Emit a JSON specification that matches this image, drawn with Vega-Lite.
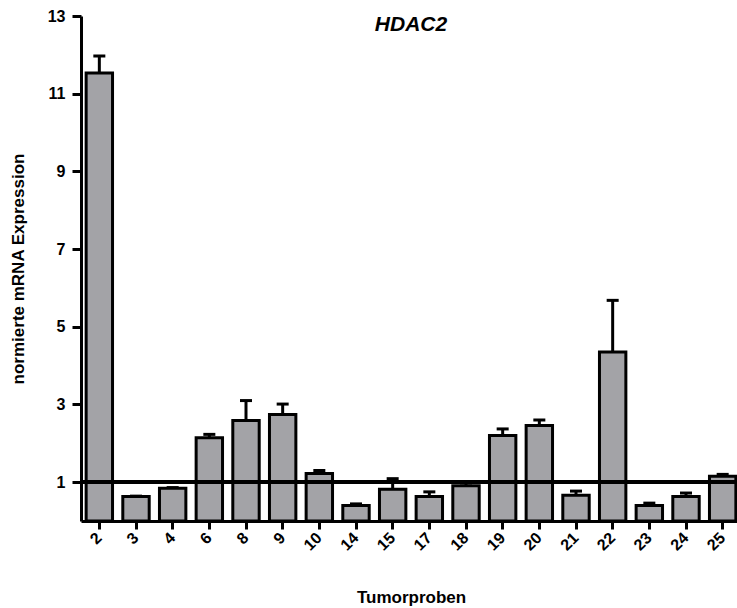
{
  "$schema": "https://vega.github.io/schema/vega-lite/v6.json",
  "width": 660,
  "height": 505,
  "autosize": "none",
  "padding": {"left": 81, "top": 16, "right": 0, "bottom": 87},
  "background": "white",
  "title": {"text": "HDAC2", "font": "Liberation Sans", "fontSize": 21, "fontStyle": "italic", "fontWeight": "bold", "anchor": "middle", "offset": -27, "color": "black"},
  "config": {
    "view": {"stroke": null},
    "axis": {
      "domainColor": "black", "domainWidth": 3, "tickColor": "black", "tickWidth": 3,
      "labelFont": "Liberation Sans", "labelFontWeight": "bold", "labelFontSize": 16, "labelColor": "black",
      "titleFont": "Liberation Sans", "titleFontWeight": "bold", "titleFontSize": 17, "titleColor": "black",
      "grid": false
    }
  },
  "data": {"values": [
    {"probe": "2", "mean": 11.53, "upper": 11.97},
    {"probe": "3", "mean": 0.63, "upper": 0.64},
    {"probe": "4", "mean": 0.84, "upper": 0.86},
    {"probe": "6", "mean": 2.14, "upper": 2.23},
    {"probe": "8", "mean": 2.59, "upper": 3.10},
    {"probe": "9", "mean": 2.74, "upper": 3.01},
    {"probe": "10", "mean": 1.22, "upper": 1.30},
    {"probe": "14", "mean": 0.40, "upper": 0.44},
    {"probe": "15", "mean": 0.82, "upper": 1.09},
    {"probe": "17", "mean": 0.63, "upper": 0.75},
    {"probe": "18", "mean": 0.91, "upper": 0.98},
    {"probe": "19", "mean": 2.20, "upper": 2.37},
    {"probe": "20", "mean": 2.46, "upper": 2.60},
    {"probe": "21", "mean": 0.66, "upper": 0.77},
    {"probe": "22", "mean": 4.35, "upper": 5.68},
    {"probe": "23", "mean": 0.40, "upper": 0.46},
    {"probe": "24", "mean": 0.63, "upper": 0.72},
    {"probe": "25", "mean": 1.15, "upper": 1.20}
  ]},
  "layer": [
    {
      "mark": {"type": "rule", "strokeWidth": 3, "color": "black"},
      "encoding": {
        "x": {
          "field": "probe", "type": "ordinal", "sort": null,
          "scale": {"paddingInner": 0.28, "paddingOuter": 0.14},
          "axis": {"title": "Tumorproben", "labelAngle": -45, "labelAlign": "right", "labelBaseline": "middle", "tickSize": 8, "labelPadding": 6, "titlePadding": 36}
        },
        "y": {"field": "mean", "type": "quantitative", "scale": {"domain": [0, 13], "nice": false},
          "axis": {"title": "normierte mRNA Expression", "values": [1, 3, 5, 7, 9, 11, 13], "tickSize": 9, "labelPadding": 7, "titlePadding": 20}},
        "y2": {"field": "upper"}
      }
    },
    {
      "mark": {"type": "tick", "size": 12, "thickness": 3, "color": "black", "opacity": 1},
      "encoding": {
        "x": {"field": "probe", "type": "ordinal", "sort": null},
        "y": {"field": "upper", "type": "quantitative",
          "axis": {"title": "normierte mRNA Expression", "values": [1, 3, 5, 7, 9, 11, 13], "tickSize": 9, "labelPadding": 7, "titlePadding": 20}}
      }
    },
    {
      "mark": {"type": "bar", "fill": "#a3a3a7", "stroke": "black", "strokeWidth": 3},
      "encoding": {
        "x": {"field": "probe", "type": "ordinal", "sort": null},
        "y": {"field": "mean", "type": "quantitative",
          "axis": {"title": "normierte mRNA Expression", "values": [1, 3, 5, 7, 9, 11, 13], "tickSize": 9, "labelPadding": 7, "titlePadding": 20}}
      }
    },
    {
      "mark": {"type": "rule", "strokeWidth": 3.5, "color": "black"},
      "encoding": {"y": {"datum": 1}}
    }
  ]
}
